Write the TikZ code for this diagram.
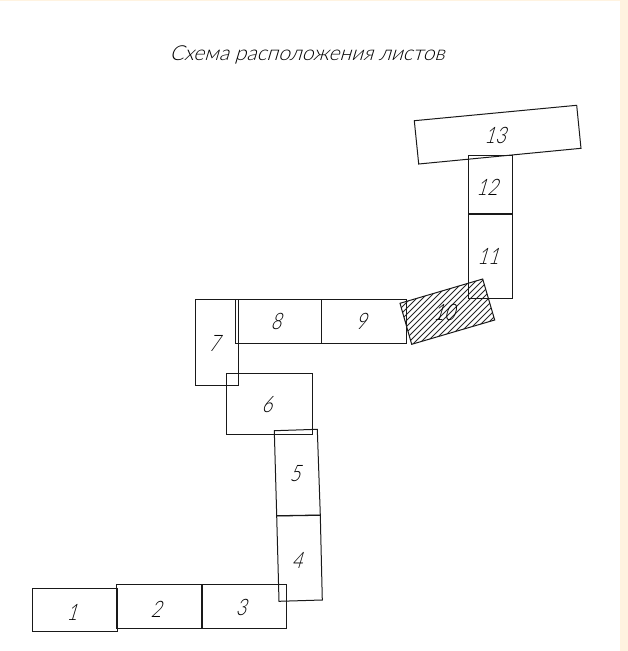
\documentclass[tikz,border=0pt]{standalone}
\usepackage{fontspec}
\setmainfont{Lato Light}
\newfontfamily\numfont{Lato Light}[FakeSlant=0.3,FakeStretch=0.8]
\newfontfamily\titlefont{Lato Light}[FakeSlant=0.3,FakeStretch=1.02]
\definecolor{pagebg}{HTML}{FFF3E0}
\tikzset{
  px/.style={x=0.75pt,y=-0.75pt},
  sheet/.style={draw=black!90,line width=0.75pt,line join=miter},
  numlabel/.style={font=\numfont\fontsize{17}{19}\selectfont,text=black,inner sep=0pt},
  titlelabel/.style={font=\titlefont\fontsize{15.5}{17}\selectfont,text=black,inner sep=0pt}
}
\begin{document}
\begin{tikzpicture}[px]
\useasboundingbox (0,0) rectangle (628,651);
\fill[pagebg] (0,0) rectangle (628,651);
\fill[white] (0,1) rectangle (619.5,651);
\begin{scope}
\clip (400,303.3) -- (482.7,279) -- (494.7,320) -- (411.7,344.3) -- cycle;
\foreach \k in {0,...,20} {
  \draw[line width=0.55pt,black!85] ({353+\k*6},350) -- ++(90,-90);
}
\end{scope}
\draw[sheet] (195,299.3) rectangle (238.3,385.3);
\draw[sheet] (235.3,299.3) rectangle (321.3,343);
\draw[sheet] (321.3,299.3) rectangle (406.7,343);
\draw[sheet] (226.7,373) rectangle (312.7,434.3);
\draw[sheet] (468.3,155.7) rectangle (512.3,213.3);
\draw[sheet] (468.3,214.3) rectangle (512.3,298.7);
\draw[sheet] (414.3,120.7) -- (576.7,105.3) -- (581,148.3) -- (418.7,164) -- cycle;
\draw[sheet] (400,303.3) -- (482.7,279) -- (494.7,320) -- (411.7,344.3) -- cycle;
\draw[sheet] (274.3,430.7) -- (317.3,429.3) -- (320.3,515) -- (276.7,515.7) -- cycle;
\draw[sheet] (276.7,516) -- (320.3,515.3) -- (322.3,600) -- (279,601.3) -- cycle;
\draw[sheet] (202.7,584.7) rectangle (286.7,628.3);
\draw[sheet] (116.7,584.7) rectangle (201,628.3);
\draw[sheet] (32,588.3) rectangle (117.7,631);
\node[titlelabel] (title) at (307,55) {Схема расположения листов};
\node[numlabel] (n1) at (72,612) {1};
\node[numlabel] (n2) at (156,609) {2};
\node[numlabel] (n3) at (241,607) {3};
\node[numlabel] (n4) at (297,560) {4};
\node[numlabel] (n5) at (295,474) {5};
\node[numlabel] (n6) at (267,405) {6};
\node[numlabel] (n7) at (214,343) {7};
\node[numlabel] (n8) at (276,321) {8};
\node[numlabel] (n9) at (361,321) {9};
\node[numlabel] (n10) at (444,312) {10};
\node[numlabel] (n11) at (488,256) {11};
\node[numlabel] (n12) at (487,187) {12};
\node[numlabel] (n13) at (495,135) {13};
\end{tikzpicture}
\end{document}
